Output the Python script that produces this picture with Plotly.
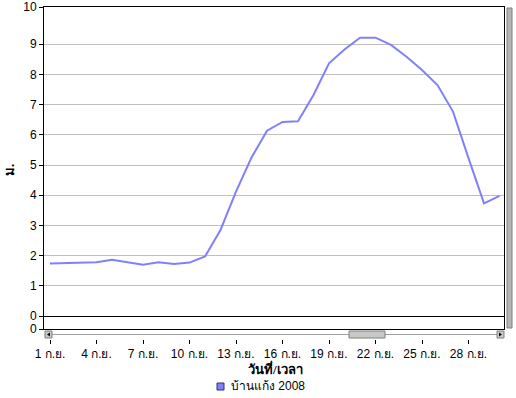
import plotly.graph_objects as go

days = list(range(1, 31))
levels = [1.74, 1.76, 1.76, 1.78, 1.86, 1.78, 1.70, 1.78, 1.72, 1.77,
          1.97, 2.85, 4.12, 5.25, 6.14, 6.43, 6.45, 7.32, 8.37, 8.83,
          9.22, 9.22, 8.98, 8.59, 8.15, 7.65, 6.77, 5.23, 3.73, 3.98]
tick_days = [1, 4, 7, 10, 13, 16, 19, 22, 25, 28]
tick_text = [f"{d} ก.ย." for d in tick_days]
series_name = "บ้านแก้ง 2008"
x_title = "วันที่/เวลา"
y_title = "ม."

W, H = 516, 398
ML, MR, MT, MB = 44, 12, 7, 7
PW = W - ML - MR
PH = H - MT - MB


def px(x):
    return (x - ML) / PW


def py(y):
    return (H - MB - y) / PH


FONT = "Liberation Sans, Noto Sans, DejaVu Sans, sans-serif"
LINE_COLOR = "#8080ff"

fig = go.Figure()
fig.add_trace(go.Scatter(x=days, y=levels, mode="lines", name=series_name,
                         line=dict(color=LINE_COLOR, width=2),
                         showlegend=False, hoverinfo="skip"))
fig.add_trace(go.Scatter(x=[None], y=[None], mode="markers", xaxis="x2",
                         showlegend=False, hoverinfo="skip"))

y_bottom = -0.43
y_top = 10.235
fig.update_layout(
    width=W, height=H,
    margin=dict(l=ML, r=MR, t=MT, b=MB, autoexpand=False),
    paper_bgcolor="white", plot_bgcolor="white",
    font=dict(family=FONT, size=12, color="black"),
    showlegend=False,
    xaxis=dict(range=[0.613, 30.29], showgrid=False, zeroline=False,
               showline=True, mirror=True, linecolor="black", linewidth=1,
               showticklabels=False, ticks="", domain=[0, 1]),
    xaxis2=dict(range=[0.613, 30.29], overlaying="x", anchor="free",
                position=py(339), side="bottom", showgrid=False, zeroline=False,
                showline=False, ticks="outside", ticklen=4, tickcolor="black",
                tickvals=tick_days, ticktext=tick_text,
                tickfont=dict(size=12, family=FONT)),
    yaxis=dict(range=[y_bottom, y_top], domain=[py(329), 1],
               tickvals=[y_bottom] + list(range(0, 10)) + [y_top],
               ticktext=["0"] + [str(v) for v in range(0, 10)] + ["10"],
               ticks="outside", ticklen=4, tickcolor="black",
               showgrid=True, gridcolor="#c0c0c0", gridwidth=1,
               zeroline=True, zerolinecolor="black", zerolinewidth=1,
               showline=True, mirror=True, linecolor="black", linewidth=1,
               tickfont=dict(size=12, family=FONT)),
    annotations=[
        dict(text=f"<b>{x_title}</b>", xref="paper", yref="paper",
             x=px(275), y=py(368), xanchor="center", yanchor="middle",
             showarrow=False,
             font=dict(size=13, family="Liberation Serif, serif")),
        dict(text=f"<b>{y_title}</b>", xref="paper", yref="paper",
             x=px(9), y=py(170), xanchor="center", yanchor="middle",
             showarrow=False, textangle=-90,
             font=dict(size=13, family="Liberation Serif, serif")),
        dict(text=series_name, xref="paper", yref="paper",
             x=px(229), y=py(386), xanchor="left", yanchor="middle",
             showarrow=False, font=dict(size=12, family=FONT)),
    ],
)

shapes = []
# legend swatch
shapes.append(dict(type="rect", xref="paper", yref="paper",
                   x0=px(217), x1=px(224), y0=py(390), y1=py(383),
                   fillcolor=LINE_COLOR, line=dict(color="#333366", width=1)))
# horizontal scrollbar track line
shapes.append(dict(type="line", xref="paper", yref="paper",
                   x0=px(52), x1=px(498), y0=py(334.5), y1=py(334.5),
                   line=dict(color="#a0a0a0", width=1)))
# left button
shapes.append(dict(type="rect", xref="paper", yref="paper",
                   x0=px(45), x1=px(52), y0=py(338), y1=py(331),
                   fillcolor="#c8c8c8", line=dict(color="#808080", width=1)))
shapes.append(dict(type="path", xref="paper", yref="paper",
                   path=f"M {px(47)} {py(334.5)} L {px(50)} {py(332.5)} L {px(50)} {py(336.5)} Z",
                   fillcolor="black", line=dict(width=0)))
# right button
shapes.append(dict(type="rect", xref="paper", yref="paper",
                   x0=px(497), x1=px(504), y0=py(338), y1=py(331),
                   fillcolor="#c8c8c8", line=dict(color="#808080", width=1)))
shapes.append(dict(type="path", xref="paper", yref="paper",
                   path=f"M {px(502)} {py(334.5)} L {px(499)} {py(332.5)} L {px(499)} {py(336.5)} Z",
                   fillcolor="black", line=dict(width=0)))
# thumb
shapes.append(dict(type="rect", xref="paper", yref="paper",
                   x0=px(349), x1=px(385), y0=py(338), y1=py(331),
                   fillcolor="#c8c8c8", line=dict(color="#808080", width=1)))
# vertical scrollbar at right
shapes.append(dict(type="rect", xref="paper", yref="paper",
                   x0=px(507), x1=px(512), y0=py(328), y1=py(8),
                   fillcolor="#b4b4b4", line=dict(color="#808080", width=1)))
fig.update_layout(shapes=shapes)

fig.write_html("out.html")
